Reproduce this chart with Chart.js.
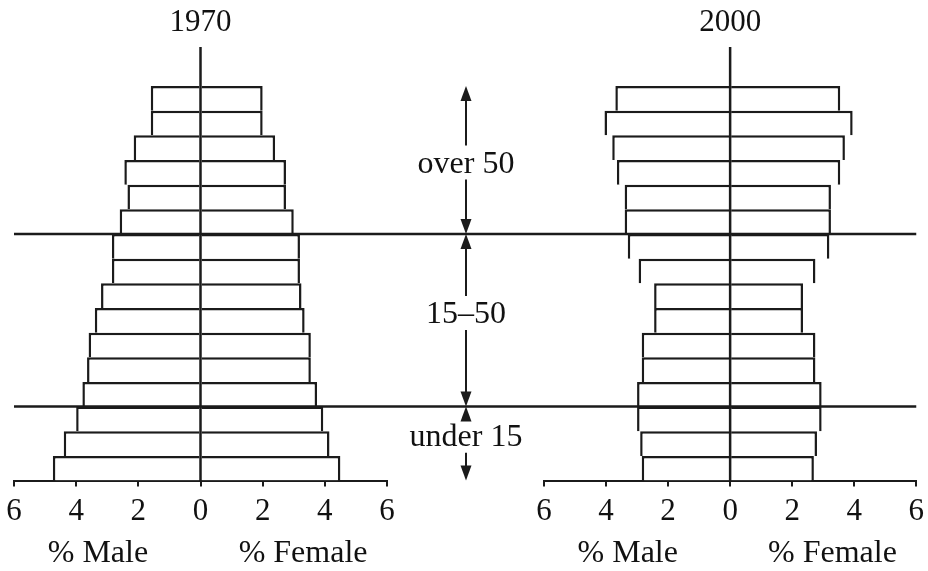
<!DOCTYPE html>
<html lang="en">
<head>
<meta charset="utf-8">
<script src="https://cdn.jsdelivr.net/npm/chart.js@4.4.1/dist/chart.umd.min.js"></script>
<style>
body { margin: 0; background: #fff; }
#wrap { position: relative; width: 928px; height: 571px; }
#wrap canvas { position: absolute; left: 0; top: 0; }
</style>
</head>
<body>
<div id="wrap">
  <canvas id="c1970" width="928" height="571"></canvas>
  <canvas id="c2000" width="928" height="571"></canvas>
</div>

<script>
"use strict";

// age groups, oldest at the top
var ageGroups = ['75+', '70–74', '65–69', '60–64', '55–59', '50–54', '45–49', '40–44',
                 '35–39', '30–34', '25–29', '20–24', '15–19', '10–14', '5–9', '0–4'];

// percent of population
var male1970   = [1.6, 1.6, 2.15, 2.45, 2.35, 2.6, 2.85, 2.85, 3.2, 3.4, 3.6, 3.65, 3.8, 4.0, 4.4, 4.75];
var female1970 = [2.0, 2.0, 2.4, 2.75, 2.75, 3.0, 3.2, 3.2, 3.25, 3.35, 3.55, 3.55, 3.75, 3.95, 4.15, 4.5];
var male2000   = [3.7, 4.05, 3.8, 3.65, 3.4, 3.4, 3.3, 2.95, 2.45, 2.45, 2.85, 2.85, 3.0, 3.0, 2.9, 2.85];
var female2000 = [3.55, 3.95, 3.7, 3.55, 3.25, 3.25, 3.2, 2.75, 2.35, 2.35, 2.75, 2.75, 2.95, 2.95, 2.8, 2.7];

var xTicks = [-6, -4, -2, 0, 2, 4, 6];

// brackets in the middle: label and how many age groups each covers
var bandLabels = ['over 50', '15–50', 'under 15'];
var bandSizes = [6, 7, 3];
var bandTextPos = [0.585, 0.515, 0.53];

var INK = '#1b1b1b';
var SERIF = '"Liberation Serif", "Times New Roman", serif';

var barStyle = {
	backgroundColor: '#fff',
	borderColor: INK,
	borderWidth: {top: 2.5, right: 2.5, bottom: 0, left: 2.5},
	borderSkipped: 'start',
	inflateAmount: 0,
	categoryPercentage: 1,
	barPercentage: 1
};

// year title, zero line and the two axis captions
var framePlugin = {
	id: 'frame',
	afterDatasetsDraw: function(chart, args, opts) {
		var ctx = chart.ctx, x = chart.scales.x, area = chart.chartArea;
		var x0 = x.getPixelForValue(0);
		ctx.save();
		ctx.strokeStyle = INK;
		ctx.lineWidth = 2.5;
		ctx.beginPath();
		ctx.moveTo(x0, 47);
		ctx.lineTo(x0, area.bottom);
		ctx.stroke();

		ctx.fillStyle = '#111';
		ctx.font = '31px ' + SERIF;
		ctx.textAlign = 'center';
		ctx.textBaseline = 'alphabetic';
		ctx.fillText(opts.year, x0, 31);
		ctx.font = '32px ' + SERIF;
		ctx.fillText('% Male', x.getPixelForValue(-3.3), 562);
		ctx.fillText('% Female', x.getPixelForValue(3.3), 562);
		ctx.restore();
	}
};

function arrowHead(ctx, x, y, dir) {
	ctx.beginPath();
	ctx.moveTo(x, y);
	ctx.lineTo(x - 5.5, y - dir * 15);
	ctx.lineTo(x + 5.5, y - dir * 15);
	ctx.closePath();
	ctx.fill();
}

function makeChart(id, year, male, female, padLeft, padRight, extra) {
	return new Chart(document.getElementById(id), {
		type: 'bar',
		data: {
			labels: ageGroups,
			datasets: [
				Object.assign({label: '% Male', data: male.map(function(v) { return -v; })}, barStyle),
				Object.assign({label: '% Female', data: female}, barStyle)
			]
		},
		options: {
			indexAxis: 'y',
			responsive: false,
			animation: false,
			layout: {padding: {top: 86, bottom: 33, left: padLeft, right: padRight}},
			plugins: {
				legend: {display: false},
				tooltip: {enabled: false},
				frame: {year: year}
			},
			scales: {
				x: {
					min: -6,
					max: 6,
					stacked: true,
					afterBuildTicks: function(scale) {
						scale.ticks = xTicks.map(function(v) { return {value: v}; });
					},
					ticks: {
						autoSkip: false,
						maxRotation: 0,
						padding: 4,
						color: '#111',
						font: {family: SERIF, size: 31, lineHeight: 1.4},
						callback: function(v) { return Math.abs(v); }
					},
					grid: {drawOnChartArea: false, drawTicks: true, tickLength: 6, color: INK, lineWidth: 2},
					border: {display: true, color: INK, width: 2}
				},
				y: {stacked: true, display: false}
			}
		},
		plugins: [framePlugin].concat(extra || [])
	});
}

var leftChart = makeChart('c1970', '1970', male1970, female1970, 14, 541);

// group dividers across both pyramids, and the arrows between them
var bandPlugin = {
	id: 'bands',
	afterDraw: function(chart) {
		var ctx = chart.ctx, y = chart.scales.y, area = chart.chartArea;
		var la = leftChart.chartArea;
		var midX = (la.right + area.left) / 2 + 0.5;
		var edges = [area.top], idx = 0;
		bandSizes.forEach(function(n) {
			idx += n;
			edges.push(idx < ageGroups.length
				? (y.getPixelForValue(idx - 1) + y.getPixelForValue(idx)) / 2
				: area.bottom);
		});

		ctx.save();
		ctx.strokeStyle = INK;
		ctx.fillStyle = INK;
		ctx.lineWidth = 2.5;
		for (var i = 1; i < edges.length - 1; i++) {
			ctx.beginPath();
			ctx.moveTo(la.left, edges[i]);
			ctx.lineTo(area.right, edges[i]);
			ctx.stroke();
		}

		ctx.font = '32px ' + SERIF;
		ctx.textAlign = 'center';
		ctx.textBaseline = 'alphabetic';
		ctx.lineWidth = 2;
		bandLabels.forEach(function(label, i) {
			var top = edges[i], bot = edges[i + 1];
			var base = top + (bot - top) * bandTextPos[i];
			ctx.beginPath();
			ctx.moveTo(midX, top + 8);
			ctx.lineTo(midX, base - 27);
			ctx.moveTo(midX, base + 7);
			ctx.lineTo(midX, bot - 8);
			ctx.stroke();
			arrowHead(ctx, midX, top, -1);
			arrowHead(ctx, midX, bot, 1);
			ctx.fillStyle = '#111';
			ctx.fillText(label, midX, base);
			ctx.fillStyle = INK;
		});
		ctx.restore();
	}
};

var rightChart = makeChart('c2000', '2000', male2000, female2000, 544, 11, [bandPlugin]);
</script>
</body>
</html>
